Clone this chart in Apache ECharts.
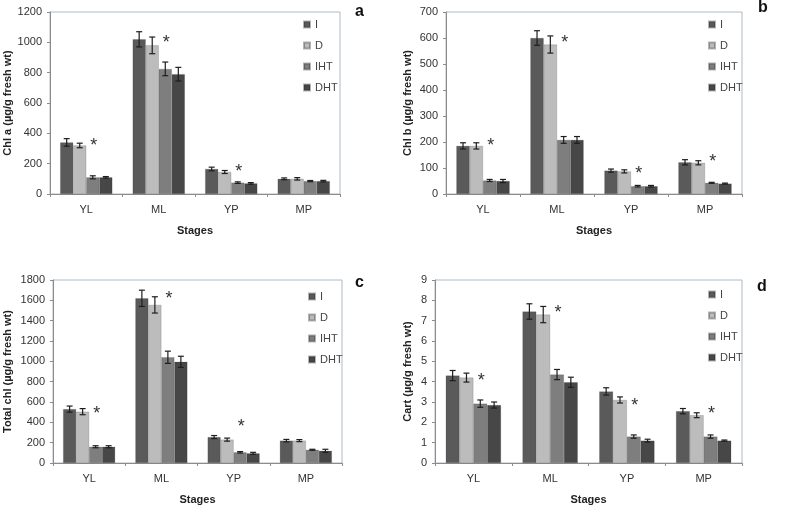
<!DOCTYPE html>
<html>
<head>
<meta charset="utf-8">
<script src="https://cdn.jsdelivr.net/npm/echarts@6/dist/echarts.min.js"></script>
<style>html,body{margin:0;padding:0;background:#fff}#c{width:800px;height:513px}</style>
</head>
<body>
<div id="c"></div>
<script>
const categories = ['YL', 'ML', 'YP', 'MP'];
const seriesNames = ['I', 'D', 'IHT', 'DHT'];
const seriesColors = ['#5a5a5a', '#bcbcbc', '#7e7e7e', '#474747'];

// Panel a: Chl a  (rows: I, D, IHT, DHT; columns: YL, ML, YP, MP)
const chlA = [[340, 1020, 165, 100], [320, 980, 145, 100], [110, 825, 75, 85], [110, 790, 70, 85]];
const chlAErr = [[25, 50, 12, 6], [15, 55, 10, 8], [10, 45, 5, 4], [5, 45, 5, 5]];
const chlAStars = [[0, 343], [1, 1022], [2, 171]];

// Panel b: Chl b
const chlB = [[185, 600, 90, 122], [185, 575, 87, 120], [52, 208, 30, 43], [50, 208, 30, 40]];
const chlBErr = [[12, 28, 6, 10], [12, 33, 6, 8], [4, 13, 3, 2], [6, 13, 3, 2]];
const chlBStars = [[0, 200], [1, 596], [2, 92], [3, 138]];

// Panel c: Total chl
const totChl = [[530, 1620, 255, 220], [505, 1555, 230, 220], [160, 1040, 105, 130], [160, 995, 95, 120]];
const totChlErr = [[30, 80, 15, 12], [30, 80, 15, 10], [10, 60, 7, 5], [10, 55, 10, 15]];
const totChlStars = [[0, 521], [1, 1652], [2, 393]];

// Panel d: Cart
const cart = [[4.3, 7.45, 3.52, 2.55], [4.2, 7.3, 3.1, 2.35], [2.92, 4.35, 1.3, 1.3], [2.85, 3.97, 1.1, 1.1]];
const cartErr = [[0.25, 0.38, 0.18, 0.13], [0.22, 0.4, 0.15, 0.12], [0.18, 0.25, 0.08, 0.08], [0.15, 0.25, 0.07, 0.03]];
const cartStars = [[0, 4.23], [1, 7.57], [2, 3.0], [3, 2.6]];

const panels = [
  {vals: chlA, errs: chlAErr, stars: chlAStars, max: 1200, interval: 200, name: 'Chl a (µg/g fresh wt)', letter: 'a',
   grid: {left: 50, top: 12, width: 290, height: 182}, nameGap: 37, legend: {left: 298, top: 14}, letterPos: [355, 4]},
  {vals: chlB, errs: chlBErr, stars: chlBStars, max: 700, interval: 100, name: 'Chl b (µg/g fresh wt)', letter: 'b',
   grid: {left: 446, top: 12, width: 296, height: 182}, nameGap: 33, legend: {left: 703, top: 14}, letterPos: [758, 0]},
  {vals: totChl, errs: totChlErr, stars: totChlStars, max: 1800, interval: 200, name: 'Total chl (µg/g fresh wt)', letter: 'c',
   grid: {left: 53, top: 280, width: 289, height: 183}, nameGap: 40, legend: {left: 303, top: 286}, letterPos: [355, 275]},
  {vals: cart, errs: cartErr, stars: cartStars, max: 9, interval: 1, name: 'Cart (µg/g fresh wt)', letter: 'd',
   grid: {left: 435, top: 280, width: 307, height: 183}, nameGap: 22, legend: {left: 703, top: 284}, letterPos: [757, 279]}
];

const BAR_FRAC = 0.18;
const chart = echarts.init(document.getElementById('c'), null, {renderer: 'canvas'});

const grids = [], xAxes = [], yAxes = [], series = [], legends = [], graphics = [];

panels.forEach((p, gi) => {
  grids.push(Object.assign({show: true, borderColor: '#aebbc4', borderWidth: 1, backgroundColor: 'transparent'}, p.grid));
  xAxes.push({
    type: 'category', gridIndex: gi, data: categories,
    name: 'Stages', nameLocation: 'middle', nameGap: 31,
    nameTextStyle: {fontFamily: 'Liberation Sans', fontWeight: 'bold', fontSize: 11, color: '#222'},
    axisLine: {lineStyle: {color: '#8c8c8c'}},
    axisTick: {show: true, length: 3, lineStyle: {color: '#8c8c8c'}},
    axisLabel: {fontFamily: 'Liberation Sans', fontSize: 11, color: '#333', margin: 10}
  });
  yAxes.push({
    type: 'value', gridIndex: gi, min: 0, max: p.max, interval: p.interval,
    name: p.name, nameLocation: 'middle', nameGap: p.nameGap, nameRotate: 90,
    nameTextStyle: {fontFamily: 'Liberation Sans', fontWeight: 'bold', fontSize: 11, color: '#222'},
    axisLine: {show: true, lineStyle: {color: '#8c8c8c'}},
    axisTick: {show: true, length: 3, lineStyle: {color: '#8c8c8c'}},
    splitLine: {show: false},
    axisLabel: {fontFamily: 'Liberation Sans', fontSize: 11, color: '#333', margin: 8,
      formatter: function (v) { return String(v); }}
  });
  legends.push({
    data: seriesNames, orient: 'vertical', left: p.legend.left, top: p.legend.top,
    icon: 'rect', itemWidth: 6, itemHeight: 6, itemGap: 10,
    textStyle: {fontFamily: 'Liberation Sans', fontSize: 11, color: '#444'},
    selectedMode: false
  });
  seriesNames.forEach((sn, si) => {
    series.push({
      type: 'bar', name: sn, xAxisIndex: gi, yAxisIndex: gi,
      data: p.vals[si], barWidth: (BAR_FRAC * 100) + '%', barGap: '0%',
      itemStyle: {color: seriesColors[si], borderColor: 'rgba(40,40,40,0.35)', borderWidth: 0.5},
      animation: false
    });
  });
  seriesNames.forEach((sn, si) => {
    series.push({
      type: 'custom', xAxisIndex: gi, yAxisIndex: gi, silent: true, animation: false, z: 5,
      data: categories.map((c, ci) => [ci, p.vals[si][ci], p.errs[si][ci]]),
      renderItem: function (params, api) {
        const ci = api.value(0), v = api.value(1), e = api.value(2);
        const band = api.size([1, 0])[0];
        const bw = band * BAR_FRAC;
        const base = api.coord([ci, v]);
        const x = base[0] + (si - 1.5) * bw;
        const yt = api.coord([ci, v + e])[1];
        const yb = api.coord([ci, v - e])[1];
        const cap = 3;
        const st = {stroke: '#1e1e1e', lineWidth: 1.2};
        return {type: 'group', children: [
          {type: 'line', shape: {x1: x, y1: yt, x2: x, y2: yb}, style: st},
          {type: 'line', shape: {x1: x - cap, y1: yt, x2: x + cap, y2: yt}, style: st},
          {type: 'line', shape: {x1: x - cap, y1: yb, x2: x + cap, y2: yb}, style: st}
        ]};
      }
    });
  });
  series.push({
    type: 'custom', xAxisIndex: gi, yAxisIndex: gi, silent: true, animation: false, z: 6,
    data: p.stars,
    renderItem: function (params, api) {
      const ci = api.value(0), v = api.value(1);
      const band = api.size([1, 0])[0];
      const bw = band * BAR_FRAC;
      const pt = api.coord([ci, v]);
      return {type: 'text', x: pt[0] + 0.5 * bw + 1, y: pt[1] + 4,
        style: {text: '*', fontFamily: 'Liberation Sans', fontSize: 18, fill: '#333', align: 'center', verticalAlign: 'middle'}};
    }
  });
  graphics.push({type: 'text', left: p.letterPos[0], top: p.letterPos[1],
    style: {text: p.letter, fontFamily: 'Liberation Sans', fontWeight: 'bold', fontSize: 16, fill: '#111'}});
});

chart.setOption({
  backgroundColor: '#ffffff',
  animation: false,
  grid: grids, xAxis: xAxes, yAxis: yAxes, legend: legends, series: series, graphic: graphics
});
</script>
</body>
</html>
